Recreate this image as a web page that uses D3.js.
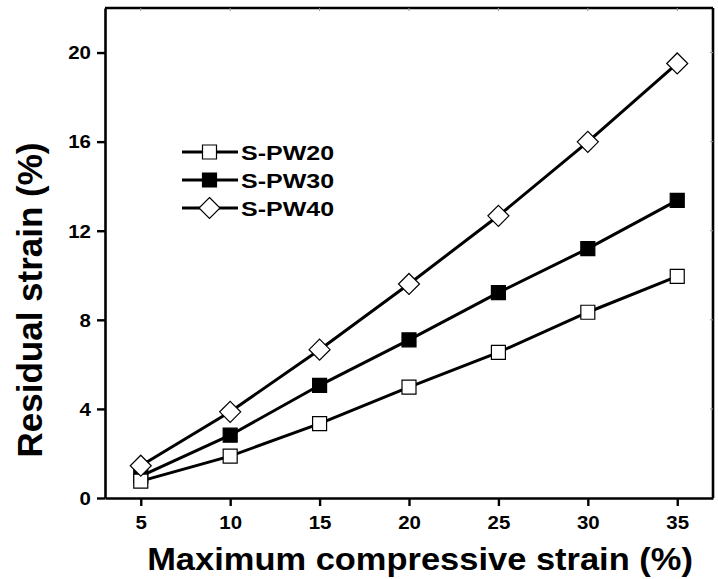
<!DOCTYPE html>
<html>
<head>
<meta charset="utf-8">
<script src="https://cdn.jsdelivr.net/npm/d3@7"></script>
<style>
  html, body { margin: 0; padding: 0; background: #fff; }
  svg { display: block; }
  text { font-family: "Liberation Sans", Arial, sans-serif; font-weight: bold; fill: #000; }
</style>
</head>
<body>
<svg id="chart" width="718" height="579"></svg>
<script>
// ---- data ----
const strainX = [5, 10, 15, 20, 25, 30, 35];
const pw20 = [0.76, 1.88, 3.34, 4.98, 6.54, 8.34, 9.95];
const pw30 = [0.98, 2.82, 5.06, 7.10, 9.22, 11.20, 13.36];
const pw40 = [1.45, 3.87, 6.66, 9.61, 12.67, 15.99, 19.51];
const seriesNames = ["S-PW20", "S-PW30", "S-PW40"];
const xTicks = [5, 10, 15, 20, 25, 30, 35];
const yTicks = [0, 4, 8, 12, 16, 20];
const xTitle = "Maximum compressive strain (%)";
const yTitle = "Residual strain (%)";

const series = [
  { name: seriesNames[0], values: pw20, marker: "square", fill: "#fff" },
  { name: seriesNames[1], values: pw30, marker: "square", fill: "#000" },
  { name: seriesNames[2], values: pw40, marker: "diamond", fill: "#fff" }
];

const SX = 1.17; // horizontal text stretch
const svg = d3.select("#chart");
const mL = 105, mR = 713, mT = 8, mB = 498;

const x = d3.scaleLinear().domain([3, 37]).range([mL, mR]);
const y = d3.scaleLinear().domain([0, 22]).range([mB, mT]);

// frame top & right
svg.append("line").attr("x1", mL).attr("x2", mR).attr("y1", mT).attr("y2", mT)
  .attr("stroke", "#000").attr("stroke-width", 2.6);
svg.append("line").attr("x1", mR).attr("x2", mR).attr("y1", mT).attr("y2", mB)
  .attr("stroke", "#000").attr("stroke-width", 2.6);
// faint inner ticks on top and right
svg.selectAll(".ttick").data(xTicks).enter().append("line")
  .attr("x1", d => x(d)).attr("x2", d => x(d)).attr("y1", mT).attr("y2", mT + 3)
  .attr("stroke", "#999").attr("stroke-width", 1);
svg.selectAll(".rtick").data(yTicks.slice(1)).enter().append("line")
  .attr("x1", mR).attr("x2", mR - 3).attr("y1", d => y(d)).attr("y2", d => y(d))
  .attr("stroke", "#999").attr("stroke-width", 1);

// bottom axis
const gx = svg.append("g").attr("transform", `translate(0,${mB})`)
  .call(d3.axisBottom(x).tickValues(xTicks).tickSize(8).tickSizeOuter(0));
gx.select(".domain").attr("stroke-width", 2.6);
gx.selectAll(".tick line").attr("stroke-width", 2.4);
gx.selectAll(".tick text").attr("y", 31).attr("dy", 0)
  .attr("font-size", 17.5).attr("transform", `scale(${SX},1)`);

// left axis
const gy = svg.append("g").attr("transform", `translate(${mL},0)`)
  .call(d3.axisLeft(y).tickValues(yTicks).tickSize(8).tickSizeOuter(0));
gy.select(".domain").attr("stroke-width", 2.6);
gy.selectAll(".tick line").attr("stroke-width", 2.4);
gy.selectAll(".tick text").attr("x", -12).attr("dy", "0.36em")
  .attr("font-size", 17.5).attr("transform", `scale(${SX},1)`);
svg.selectAll(".domain").attr("stroke", "#000");

// lines
const line = d3.line().x((d, i) => x(strainX[i])).y(d => y(d));
const drawOrder = [series[1], series[0], series[2]];
function markerPath(type) {
  if (type === "diamond") return "M0,-10.5L10.5,0L0,10.5L-10.5,0Z";
  return "M-7,-7H7V7H-7Z";
}
drawOrder.forEach(s => {
  svg.append("path").datum(s.values).attr("d", line)
    .attr("fill", "none").attr("stroke", "#000").attr("stroke-width", 3);
});
drawOrder.forEach(s => {
  svg.selectAll(null).data(s.values).enter().append("path")
    .attr("d", markerPath(s.marker))
    .attr("transform", (d, i) => `translate(${x(strainX[i])},${y(d)})`)
    .attr("fill", s.fill).attr("stroke", "#000").attr("stroke-width", 1.2);
});

// legend
const legRows = [152, 180, 208];
series.forEach((s, i) => {
  const ly = legRows[i];
  svg.append("line").attr("x1", 182).attr("x2", 238).attr("y1", ly).attr("y2", ly)
    .attr("stroke", "#000").attr("stroke-width", 3);
  svg.append("path").attr("d", markerPath(s.marker))
    .attr("transform", `translate(209.5,${ly})`)
    .attr("fill", s.fill).attr("stroke", "#000").attr("stroke-width", 1.2);
  svg.append("text").attr("transform", `translate(241,${ly + 7.5}) scale(1.19,1)`)
    .attr("font-size", 21).text(s.name);
});

// axis titles
svg.append("text").attr("transform", `translate(420,570) scale(1.13,1)`)
  .attr("text-anchor", "middle").attr("font-size", 30.5).text(xTitle);
svg.append("text").attr("transform", `translate(42,300) scale(1.02,1) rotate(-90)`)
  .attr("text-anchor", "middle").attr("font-size", 35).text(yTitle);
</script>
</body>
</html>
